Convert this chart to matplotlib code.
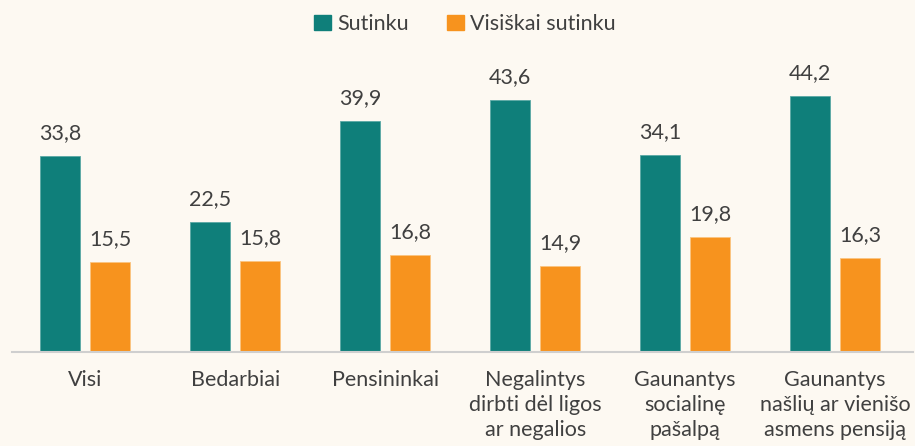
import numpy as np
import matplotlib
matplotlib.use('Agg')
import matplotlib.pyplot as plt
from matplotlib.patches import Patch

categories = ['Visi', 'Bedarbiai', 'Pensininkai',
              'Negalintys\ndirbti dėl ligos\nar negalios',
              'Gaunantys\nsocialinę\npašalpą',
              'Gaunantys\nnašlių ar vienišo\nasmens pensiją']
sutinku = [33.8, 22.5, 39.9, 43.6, 34.1, 44.2]
visiskai = [15.5, 15.8, 16.8, 14.9, 19.8, 16.3]
series_names = ['Sutinku', 'Visiškai sutinku']

teal = '#0f7f7a'
orange = '#f7931e'
bg = '#fdf9f2'
txt = '#404040'

plt.rcParams['font.family'] = ['Lato', 'DejaVu Sans']

fig = plt.figure(figsize=(9.15, 4.46), dpi=100, facecolor=bg)
ax = fig.add_axes([12/915, 94/446, 901/915, 289.5/446], facecolor=bg)

x = np.arange(len(categories))
w = 40/150
off = 25/150
b1 = ax.bar(x - off, sutinku, w, color=teal, edgecolor='#5aa9a5', linewidth=0.6)
b2 = ax.bar(x + off, visiskai, w, color=orange, edgecolor='#fbc480', linewidth=0.6)

for bars, vals in ((b1, sutinku), (b2, visiskai)):
    for r, v in zip(bars, vals):
        ax.text(r.get_x() + r.get_width()/2, v + 2.9, ('%.1f' % v).replace('.', ','),
                ha='center', va='baseline', fontsize=15.5, color=txt)

ax.set_xlim(-0.49, 5.52)
ax.set_ylim(0, 50)
ax.set_xticks(x)
ax.set_xticklabels(categories, fontsize=15.5, color=txt, linespacing=1.3)
ax.tick_params(axis='x', length=0, pad=13)
ax.set_yticks([])
for s in ['top', 'right', 'left']:
    ax.spines[s].set_visible(False)
ax.spines['bottom'].set_color('#cfcfcf')
ax.spines['bottom'].set_linewidth(1.5)

handles = [Patch(color=teal), Patch(color=orange)]
fig.legend(handles, series_names, loc='center', bbox_to_anchor=(465/915, 1 - 24/446),
           ncol=2, frameon=False, fontsize=15.5, handlelength=0.75, handleheight=0.75,
           handletextpad=0.3, columnspacing=1.8, labelcolor=txt)

fig.savefig('out.png', dpi=100, facecolor=bg)
